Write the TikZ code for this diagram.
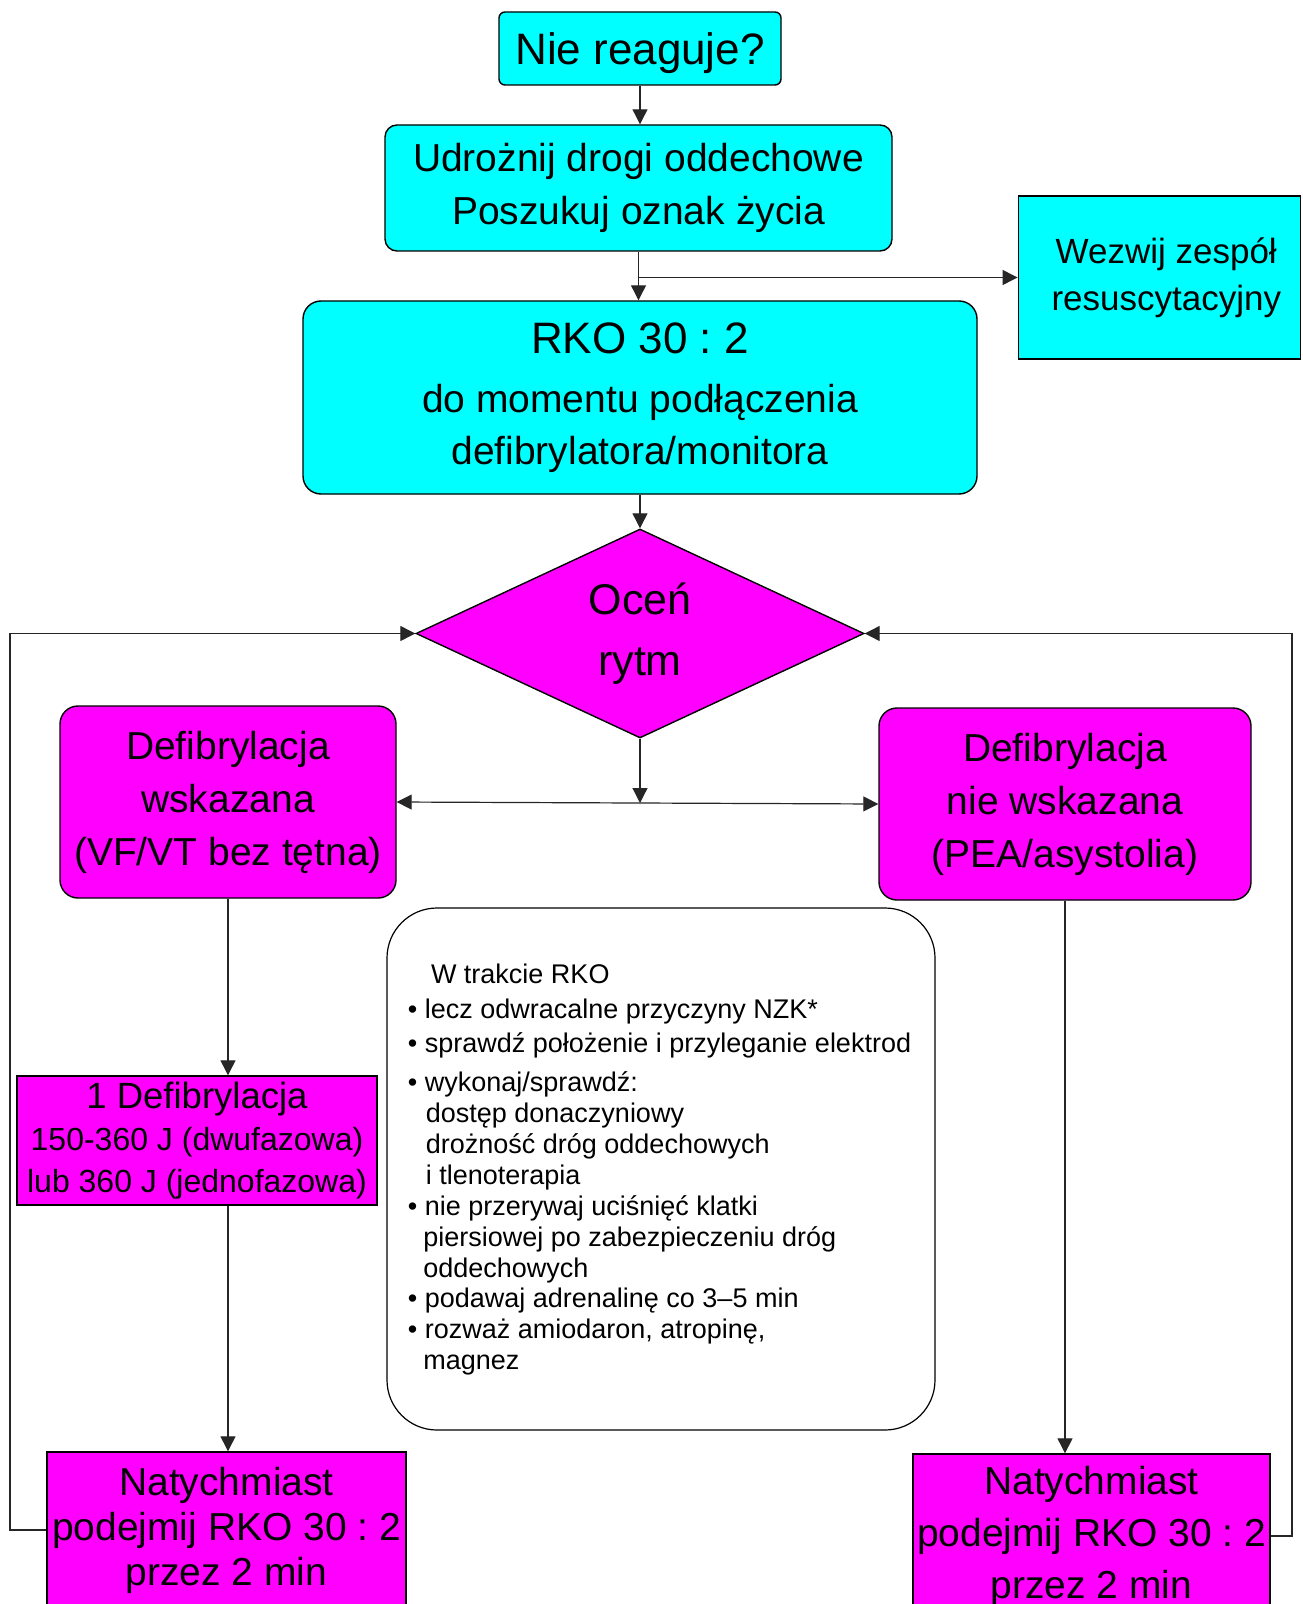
\documentclass[tikz,border=0pt]{standalone}
\usepackage{fontspec}
\setmainfont{Liberation Sans}
\usetikzlibrary{shapes.geometric,arrows.meta}

\definecolor{boxcyan}{RGB}{0,255,255}
\definecolor{boxmagenta}{RGB}{255,0,255}
\newcommand\setfs[2]{\fontsize{#1}{#2}\selectfont}
\frenchspacing

\tikzset{
  box/.style={draw=black, line width=0.7pt, inner sep=1pt, align=center},
  cyanbox/.style={box, fill=boxcyan},
  magbox/.style={box, fill=boxmagenta},
  link/.style={draw=black!85, line width=0.6pt},
  conn/.style={link, -{Triangle[length=7.5pt,width=7.5pt]}},
  noteline/.style={anchor=west, inner sep=0pt, font=\setfs{13.5}{16},
    text height=0.75em, text depth=0.25em}
}

\begin{document}
\begin{tikzpicture}[x=0.5pt, y=-0.5pt]
\useasboundingbox (0,0) rectangle (1302,1604);
\clip (0,0) rectangle (1302,1604);
\fill[white] (0,0) rectangle (1302,1604);

% top of the chart
\node[cyanbox, rounded corners=3pt, minimum width=141pt, minimum height=36.5pt,
      text height=20pt, text depth=3.6pt,
      font=\setfs{22}{26}] (start) at (640,48.5) {Nie reaguje?};
\node[cyanbox, rounded corners=6pt, minimum width=253.5pt, minimum height=63pt,
      font=\setfs{19.5}{26.5}] (airway) at (638.5,188)
      {Udrożnij drogi oddechowe\\Poszukuj oznak życia};
\node[cyanbox, minimum width=141pt, minimum height=81.5pt,
      font=\setfs{17.5}{23.5}] (call) at (1159.25,277.5)
      {\hspace*{7pt}Wezwij zespół\\\hspace*{7pt}resuscytacyjny};
\node[cyanbox, rounded corners=9pt, minimum width=337pt, minimum height=96.5pt,
      font=\setfs{19.5}{26}] (cpr) at (640,397.5)
      {{\setfs{22}{26}RKO 30 : 2}\\[3.5pt]do momentu podłączenia\\defibrylatora/monitora};

% rhythm check
\node[diamond, draw=black, line width=0.7pt, fill=boxmagenta, inner sep=0pt,
      aspect=2.14, minimum width=224pt, minimum height=104.5pt, align=center,
      font=\setfs{21.5}{30.5}] (rhythm) at (640,633.5) {Oceń\\rytm};

\node[magbox, rounded corners=9pt, minimum width=168pt, minimum height=96pt,
      font=\setfs{19.5}{26.5}] (shock) at (228,802)
      {Defibrylacja\\wskazana\\(VF/VT bez tętna)};
\node[magbox, rounded corners=9pt, minimum width=186pt, minimum height=96pt,
      font=\setfs{19.5}{26.5}] (noshock) at (1065,804)
      {Defibrylacja\\nie wskazana\\(PEA/asystolia)};

\node[magbox, minimum width=180pt, minimum height=64.5pt,
      font=\setfs{16}{21}] (defib) at (197,1140.5)
      {{\setfs{18.25}{21}1 Defibrylacja}\\150-360 J (dwufazowa)\\lub 360 J (jednofazowa)};

\node[magbox, minimum width=179.5pt, minimum height=78pt,
      font=\setfs{19.5}{22.5}] (resume1) at (226.5,1530)
      {Natychmiast\\podejmij RKO 30 : 2\\przez 2 min};
\node[magbox, minimum width=178.5pt, minimum height=82pt,
      font=\setfs{19.5}{26}] (resume2) at (1091.5,1536)
      {Natychmiast\\podejmij RKO 30 : 2\\przez 2 min};

% notes box
\node[draw=black, line width=0.6pt, fill=white, rounded corners=25pt,
      minimum width=274pt, minimum height=261pt] (info) at (661,1169) {};
\foreach \px/\py/\txt [count=\k] in {
  430.6/978.7/{W trakcie RKO},
  407.5/1013.5/{• lecz odwracalne przyczyny NZK*},
  407.5/1047.2/{• sprawdź położenie i przyleganie elektrod},
  407.5/1086.1/{• wykonaj/sprawdź:},
  425.5/1117.8/{dostęp donaczyniowy},
  425.5/1148.5/{drożność dróg oddechowych},
  425.5/1179.1/{i tlenoterapia},
  407.5/1210.8/{• nie przerywaj uciśnięć klatki},
  423/1241.5/{piersiowej po zabezpieczeniu dróg},
  423/1272.2/{oddechowych},
  407.5/1302.9/{• podawaj adrenalinę co 3–5 min},
  407.5/1333.6/{• rozważ amiodaron, atropinę,},
  423/1364.3/{magnez}}
  \node[noteline] (note\k) at (\px,\py) {\txt};

% connectors
\draw[conn] (start.south) -- (start.south |- airway.north);
\draw[conn] (airway.south) -- (airway.south |- cpr.north);
\coordinate (j1) at (airway.south |- call.west);
\draw[conn] (j1) -- (call.west);
\draw[conn] (cpr.south) -- (rhythm.north);
\coordinate (j2) at (640,803);
\draw[conn] (rhythm.south) -- (j2);
\draw[link, {Triangle[length=7.5pt,width=7.5pt]}-{Triangle[length=7.5pt,width=7.5pt]}]
  (shock.east) -- (noshock.west);
\draw[conn] (shock.south) -- (shock.south |- defib.north);
\draw[conn] (shock.south |- defib.south) -- (shock.south |- resume1.north);
\draw[conn] (noshock.south) -- (noshock.south |- resume2.north);

\coordinate (lx) at (10,0);
\coordinate (rx) at (1292,0);
\draw[conn] (resume1.west) -- (resume1.west -| lx) -- (lx |- rhythm.west) -- (rhythm.west);
\draw[conn] (resume2.east) -- (resume2.east -| rx) -- (rx |- rhythm.east) -- (rhythm.east);
\end{tikzpicture}
\end{document}
